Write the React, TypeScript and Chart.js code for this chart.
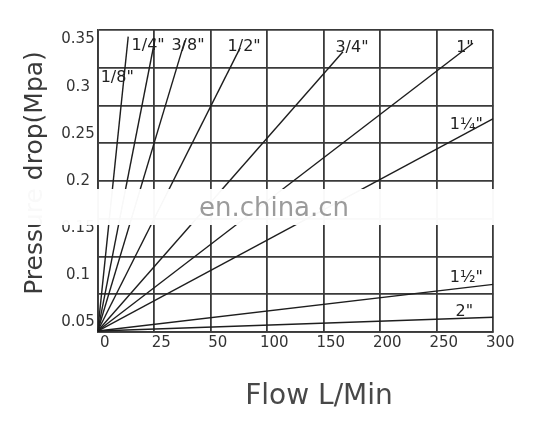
import React, { useEffect, useRef } from "react";
import { Chart, registerables } from "chart.js";

Chart.register(...registerables);

// ---- data ----
const flowTicks = [0, 25, 50, 100, 150, 200, 250, 300];
const yTickValues = [0.05, 0.1, 0.15, 0.2, 0.25, 0.3, 0.35];
const yGridValues = [0.04, 0.08, 0.12, 0.16, 0.2, 0.24, 0.28, 0.32, 0.36];
const sizes = ['1/8"', '1/4"', '3/8"', '1/2"', '3/4"', '1"', '1¼"', '1½"', '2"'];
const startFlow = 0;
const startDrop = 0.041;
const endFlow = [13.5, 25.4, 38.6, 76, 167, 282, 300, 300, 300];
const endDrop = [0.353, 0.351, 0.349, 0.341, 0.337, 0.346, 0.266, 0.0905, 0.0556];
const xTitle = "Flow L/Min";
const yTitle = "Pressure drop(Mpa)";

// ---- styles ----
const FONT = "'DejaVu Sans', 'Liberation Sans', sans-serif";
const GRID = "#3a3a3a";
const LINE = "#1e1e1e";
// label offsets (px) relative to each line's end point
const labelOffsets: [number, number][] = [
  [-11, 41], [-7, 7], [3, 5], [4, -1], [9, -4], [-8, 5], [-27, 6], [-27, -6], [-29, -5],
];

function flowToPos(f: number): number {
  for (let i = 1; i < flowTicks.length; i++) {
    if (f <= flowTicks[i]) {
      return i - 1 + (f - flowTicks[i - 1]) / (flowTicks[i] - flowTicks[i - 1]);
    }
  }
  return flowTicks.length - 1;
}

const lineLabelsPlugin = {
  id: "lineLabels",
  afterDatasetsDraw(chart: any) {
    const ctx = chart.ctx;
    const xs = chart.scales.x;
    const ys = chart.scales.y;
    ctx.save();
    ctx.font = `16px ${FONT}`;
    ctx.fillStyle = "#222";
    ctx.textAlign = "center";
    ctx.textBaseline = "middle";
    sizes.forEach((s, i) => {
      const px = xs.getPixelForValue(flowToPos(endFlow[i]));
      const py = ys.getPixelForValue(endDrop[i]);
      ctx.fillText(s, px + labelOffsets[i][0], py + labelOffsets[i][1]);
    });
    ctx.restore();
  },
};

const axisTitlesPlugin = {
  id: "axisTitles",
  afterDraw(chart: any) {
    const ctx = chart.ctx;
    ctx.save();
    ctx.textAlign = "center";
    ctx.textBaseline = "middle";
    ctx.font = `28px ${FONT}`;
    ctx.fillStyle = "#484848";
    ctx.fillText(xTitle, 319, 397);
    ctx.translate(35, 173);
    ctx.rotate(-Math.PI / 2);
    ctx.font = `25px ${FONT}`;
    ctx.fillStyle = "#3a3a3a";
    ctx.fillText(yTitle, 0, 0);
    ctx.restore();
  },
};

const watermarkPlugin = {
  id: "watermark",
  afterDraw(chart: any) {
    const ctx = chart.ctx;
    ctx.save();
    ctx.fillStyle = "rgba(255,255,255,0.97)";
    ctx.fillRect(26, 189, 470, 36);
    ctx.font = `26px ${FONT}`;
    ctx.fillStyle = "rgba(150,150,150,0.95)";
    ctx.textAlign = "center";
    ctx.textBaseline = "middle";
    ctx.fillText("en.china.cn", 274, 209);
    ctx.restore();
  },
};

export default function App() {
  const ref = useRef<HTMLCanvasElement>(null);
  useEffect(() => {
    document.body.style.margin = "0";
    const canvas = ref.current!;
    const datasets = sizes.map((s, i) => ({
      label: s,
      data: [
        { x: flowToPos(startFlow), y: startDrop },
        { x: flowToPos(endFlow[i]), y: endDrop[i] },
      ],
      borderColor: LINE,
      borderWidth: 1.4,
      pointRadius: 0,
      fill: false,
      tension: 0,
    }));
    const chart = new Chart(canvas, {
      type: "line",
      data: { datasets },
      options: {
        animation: false,
        responsive: false,
        maintainAspectRatio: false,
        layout: { padding: { left: 0, top: 30, right: 54.7, bottom: 23 } },
        plugins: { legend: { display: false }, tooltip: { enabled: false } },
        scales: {
          x: {
            type: "linear",
            min: 0,
            max: flowTicks.length - 1,
            afterBuildTicks: (s: any) => {
              s.ticks = flowTicks.map((_, i) => ({ value: i }));
            },
            ticks: {
              callback: (v: any) => String(flowTicks[v]),
              font: { family: FONT, size: 15 },
              color: "#333",
              padding: 2,
              labelOffset: 7,
              maxRotation: 0,
              autoSkip: false,
            },
            grid: { color: GRID, lineWidth: 1.8, drawTicks: false },
            border: { color: GRID, width: 1.8 },
            title: { display: false, text: xTitle },
            afterFit: (s: any) => {
              s.height = 82;
            },
          },
          y: {
            type: "linear",
            position: "left",
            min: yGridValues[0],
            max: yGridValues[yGridValues.length - 1],
            afterBuildTicks: (s: any) => {
              s.ticks = yGridValues.map((v) => ({ value: v }));
            },
            ticks: { display: false },
            grid: { color: GRID, lineWidth: 1.8, drawTicks: false },
            border: { color: GRID, width: 1.8 },
            afterFit: (s: any) => {
              s.width = 0;
            },
          },
          y2: {
            type: "linear",
            position: "left",
            min: yGridValues[0],
            max: yGridValues[yGridValues.length - 1],
            afterBuildTicks: (s: any) => {
              s.ticks = yTickValues.map((v) => ({ value: v }));
            },
            ticks: {
              callback: (v: any) => String(Math.round(v * 100) / 100),
              font: { family: FONT, size: 15 },
              color: "#333",
              padding: 3,
              crossAlign: "center",
            },
            grid: { display: false, drawTicks: false },
            border: { display: false },
            title: { display: false, text: yTitle },
            afterFit: (s: any) => {
              s.width = 97.7;
            },
          },
        },
      } as any,
      plugins: [lineLabelsPlugin, axisTitlesPlugin, watermarkPlugin],
    });
    return () => chart.destroy();
  }, []);
  return <canvas ref={ref} width={548} height={437} style={{ display: "block" }} />;
}
